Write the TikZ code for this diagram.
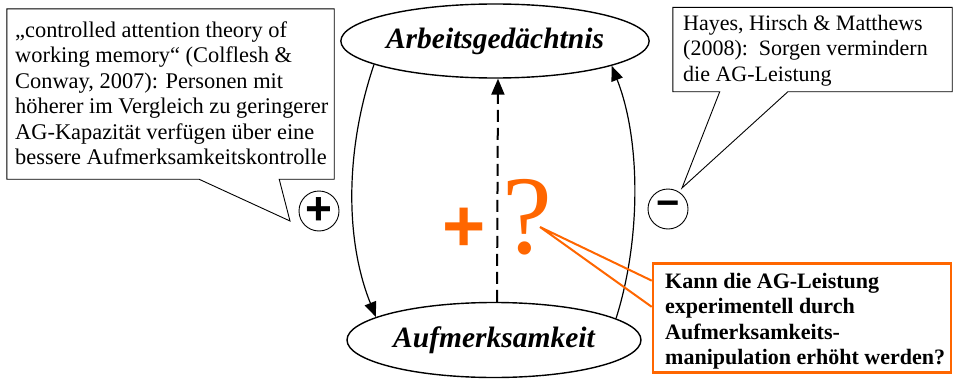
\documentclass[tikz,border=0pt]{standalone}
\usepackage{fontspec}
\setmainfont{Liberation Serif}
\newfontfamily\signfont{Liberation Sans}
\usetikzlibrary{shapes.geometric,arrows.meta,calc}
\definecolor{orng}{HTML}{FF6600}
\begin{document}
\begin{tikzpicture}[x=1pt,y=-1pt,
  ell/.style={draw,ellipse,line width=1.4pt,inner sep=0pt,
    font=\fontsize{29.5}{32}\selectfont\bfseries\itshape},
  boxtext/.style={anchor=north west,inner sep=0pt,align=left,
    font=\fontsize{22}{25.5}\selectfont},
  boxframe/.style={inner sep=0pt},
  sign/.style={draw,circle,line width=0.9pt,minimum size=40pt,inner sep=0pt},
  arr/.style={line width=1.2pt,-{Triangle[length=15pt,width=12pt]}},
]
\useasboundingbox (0,0) rectangle (959,380);

% ellipses
\node[ell,minimum width=300pt,minimum height=74pt] (ag) at (495,41) {Arbeitsgedächtnis};
\node[ell,minimum width=294pt,minimum height=75pt] (af) at (494,340) {Aufmerksamkeit};

% curved arrows
\draw[arr] (ag.191) .. controls (345,150) and (345,240) .. (af.169);
\draw[arr] (af.10) .. controls (641,240) and (641,140) .. (ag.348);

% dashed arrow
\draw[line width=2pt,dash pattern=on 12pt off 6pt,-{Triangle[length=16pt,width=13pt]}]
  ([xshift=3pt]af.north) -- ([xshift=3pt]ag.south);

% left callout
\node[boxframe,minimum width=327pt,minimum height=170pt] (lb) at (170.5,94) {};
\coordinate (lbtip) at (290,221);
\draw[line width=0.9pt,fill=white]
  (lb.south west) -- ($(lb.south west)!0.587!(lb.south east)$) -- (lbtip)
  -- ($(lb.south west)!0.832!(lb.south east)$) -- (lb.south east)
  -- (lb.north east) -- (lb.north west) -- cycle;
\node[boxtext,font=\fontsize{22.4}{25.4}\selectfont] (lbt) at (15,21.5) {„controlled attention theory of\\
working memory“ (Colflesh \&\\
Conway, 2007): Personen mit\\
höherer im Vergleich zu geringerer\\
AG-Kapazität verfügen über eine\\
bessere Aufmerksamkeitskontrolle};

% right callout
\node[boxframe,minimum width=279pt,minimum height=84pt] (rb) at (812.5,49.5) {};
\coordinate (rbtip) at (682,188);
\draw[line width=0.9pt,fill=white]
  (rb.south west) -- ($(rb.south west)!0.168!(rb.south east)$) -- (rbtip)
  -- ($(rb.south west)!0.412!(rb.south east)$) -- (rb.south east)
  -- (rb.north east) -- (rb.north west) -- cycle;
\node[boxtext] (rbt) at (683,15) {Hayes, Hirsch \& Matthews\\
(2008):\ \ Sorgen vermindern\\
die AG-Leistung};

% sign circles
\node[sign,font=\signfont\bfseries\fontsize{46}{46}\selectfont] (plus) at (319,211) {\raisebox{-2pt}{+}};
\node[sign,font=\signfont\bfseries\fontsize{40}{40}\selectfont] (minus) at (668,209) {\raisebox{0pt}{−}};

% orange plus and question mark
\node[text=orng,inner sep=0pt,anchor=base,font=\signfont\bfseries\fontsize{74}{74}\selectfont] (oplus) at (464,251) {+};
\node[text=orng,inner sep=0pt,anchor=base,font=\fontsize{112}{112}\selectfont] (qm) at (527,253) {?};

% orange callout
\node[draw=orng,line width=2.6pt,minimum width=298pt,minimum height=109pt,inner sep=0pt] (ob) at (802,318) {};
\coordinate (qtip) at (540,227);
\draw[orng,line width=2pt,line join=miter] ($(ob.north west)!0.165!(ob.south west)$) -- (qtip) -- ($(ob.north west)!0.40!(ob.south west)$);
\node[boxtext,font=\fontsize{22}{25.5}\selectfont\bfseries] (obt) at (665,273) {Kann die AG-Leistung\\
experimentell durch\\
Aufmerksamkeits-\\
manipulation erhöht werden?};
\end{tikzpicture}
\end{document}
